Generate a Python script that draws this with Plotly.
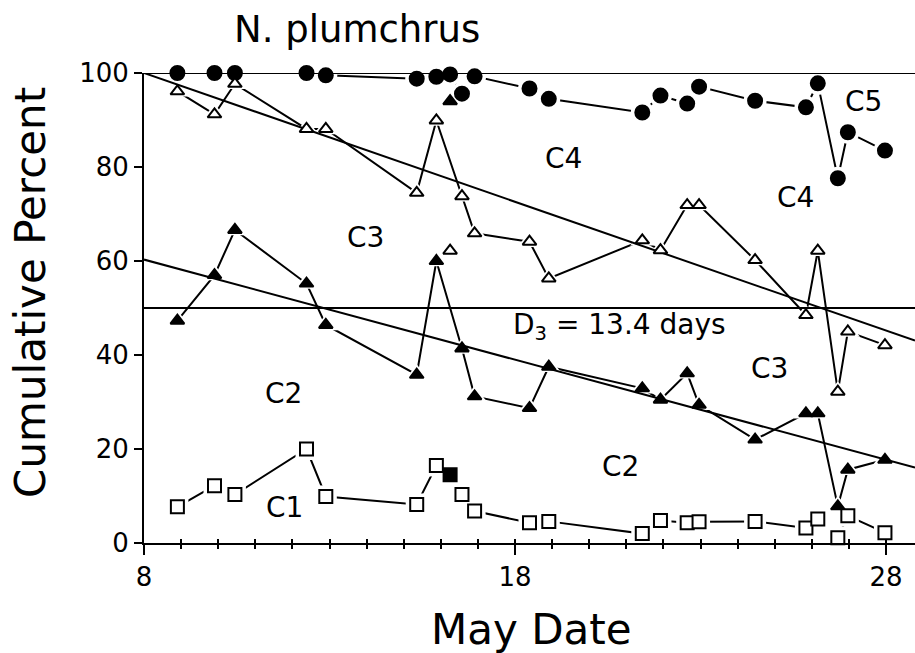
import plotly.graph_objects as go

# Sampling dates in May (day of month) shared by the stage series
dates = [8.9, 9.9, 10.45, 12.38, 12.9, 15.35, 15.88, 16.57, 16.91, 18.39, 18.91,
         21.43, 21.92, 22.64, 22.96, 24.47, 25.84, 26.16, 26.7, 26.97, 27.97]

# Cumulative percent through C4 (filled circles) – includes the extra 16.25 sample
c4_dates = [8.9, 9.9, 10.45, 12.38, 12.9, 15.35, 15.88, 16.25, 16.57, 16.91, 18.39,
            18.91, 21.43, 21.92, 22.64, 22.96, 24.47, 25.84, 26.16, 26.7, 26.97, 27.97]
c4_pct = [100, 100, 100, 100, 99.5, 98.8, 99.2, 99.7, 95.6, 99.3, 96.7,
          94.5, 91.6, 95.2, 93.5, 97.1, 94.1, 92.7, 97.8, 77.6, 87.4, 83.5]

# Cumulative percent through C3 (open triangles)
c3_pct = [96.1, 91.2, 97.7, 88.1, 88.1, 74.5, 89.9, 73.8, 65.9, 64.1, 56.3,
          64.4, 62.3, 71.9, 71.9, 60.2, 48.5, 62.2, 32.2, 45.0, 42.1]

# Cumulative percent through C2 (filled triangles)
c2_pct = [47.3, 57.0, 66.6, 55.2, 46.4, 35.8, 60.0, 41.4, 31.2, 28.7, 37.5,
          32.9, 30.5, 36.1, 29.4, 22.0, 27.6, 27.6, 7.8, 15.6, 17.7]

# Percent C1 (open squares)
c1_pct = [7.7, 12.2, 10.3, 20.0, 9.9, 8.2, 16.5, 10.3, 6.8, 4.3, 4.6,
          2.0, 4.8, 4.3, 4.5, 4.6, 3.2, 5.1, 1.1, 5.8, 2.2]

# Single extra sample on 16.25 May
extra_date = 16.25
extra_c2_filled_tri = 94.0
extra_c3_open_tri = 62.2
extra_c1_filled_sq = 14.5

# Linear fits: value at May 8 and slope (% per day)
fit_upper = (100.0, -2.74)
fit_lower = (60.3, -2.13)

# Stage labels: text, date, percent
stage_labels = [
    ("C5", 27.4, 94.0),
    ("C4", 19.3, 81.8),
    ("C4", 25.55, 73.6),
    ("C3", 13.96, 65.0),
    ("C3", 24.85, 37.2),
    ("C2", 11.76, 31.9),
    ("C2", 20.85, 16.3),
    ("C1", 11.8, 7.6),
]
d3_text = "D<sub>3</sub> = 13.4 days"
d3_pos = (17.9, 46.0)

X_MIN, X_MAX = 8.0, 28.78
FONT = "DejaVu Sans"
INK = "black"

fig = go.Figure()

series = [
    (c4_dates, c4_pct, "circle", 14, INK),
    (dates, c3_pct, "triangle-up", 12, "white"),
    (dates, c2_pct, "triangle-up", 12, INK),
    (dates, c1_pct, "square", 13, "white"),
]
extra = [(extra_date, extra_c2_filled_tri, "triangle-up", 12, INK),
         (extra_date, extra_c3_open_tri, "triangle-up", 12, "white"),
         (extra_date, extra_c1_filled_sq, "square", 13, INK)]

# connecting lines
for xs, ys, sym, sz, fill in series:
    fig.add_trace(go.Scatter(x=xs, y=ys, mode="lines",
                             line=dict(color=INK, width=2),
                             cliponaxis=False, hoverinfo="skip", showlegend=False))

# white halos so that connecting lines stop short of each symbol
for xs, ys, sym, sz, fill in series:
    fig.add_trace(go.Scatter(x=xs, y=ys, mode="markers",
                             marker=dict(symbol=sym, size=sz + 9, color="white",
                                         line=dict(width=0)),
                             cliponaxis=False, hoverinfo="skip", showlegend=False))
for xv, yv, sym, sz, fill in extra:
    fig.add_trace(go.Scatter(x=[xv], y=[yv], mode="markers",
                             marker=dict(symbol=sym, size=sz + 9, color="white",
                                         line=dict(width=0)),
                             cliponaxis=False, hoverinfo="skip", showlegend=False))

# reference lines at 100 % and 50 %
for level in (100, 50):
    fig.add_trace(go.Scatter(x=[X_MIN, X_MAX], y=[level, level], mode="lines",
                             line=dict(color=INK, width=2),
                             cliponaxis=False, hoverinfo="skip", showlegend=False))

# regression lines
for a, b in (fit_upper, fit_lower):
    fig.add_trace(go.Scatter(x=[X_MIN, X_MAX],
                             y=[a, a + b * (X_MAX - X_MIN)], mode="lines",
                             line=dict(color=INK, width=2),
                             cliponaxis=False, hoverinfo="skip", showlegend=False))

# symbols
for xs, ys, sym, sz, fill in series:
    fig.add_trace(go.Scatter(x=xs, y=ys, mode="markers",
                             marker=dict(symbol=sym, size=sz, color=fill,
                                         line=dict(color=INK, width=2)),
                             cliponaxis=False, hoverinfo="skip", showlegend=False))
for xv, yv, sym, sz, fill in extra:
    fig.add_trace(go.Scatter(x=[xv], y=[yv], mode="markers",
                             marker=dict(symbol=sym, size=sz, color=fill,
                                         line=dict(color=INK, width=2)),
                             cliponaxis=False, hoverinfo="skip", showlegend=False))

# transparent point that makes the overlaid tick axis render
fig.add_trace(go.Scatter(x=[X_MIN], y=[0], xaxis="x2", mode="markers",
                         marker=dict(size=1, opacity=0),
                         hoverinfo="skip", showlegend=False))

annotations = []
for txt, xv, yv in stage_labels:
    annotations.append(dict(text=txt, x=xv, y=yv, xref="x", yref="y",
                            showarrow=False, font=dict(family=FONT, size=28, color=INK),
                            xanchor="center", yanchor="middle"))
annotations.append(dict(text=d3_text, x=d3_pos[0], y=d3_pos[1], xref="x", yref="y",
                        showarrow=False, font=dict(family=FONT, size=28, color=INK),
                        xanchor="left", yanchor="middle"))
annotations.append(dict(text="N. plumchrus", x=0.276, y=1.092, xref="paper", yref="paper",
                        showarrow=False, font=dict(family=FONT, size=37, color=INK),
                        xanchor="center", yanchor="middle"))
annotations.append(dict(text="Cumulative Percent", x=-0.148, y=0.534,
                        xref="paper", yref="paper", textangle=-90,
                        showarrow=False, font=dict(family=FONT, size=42, color=INK),
                        xanchor="center", yanchor="middle"))
annotations.append(dict(text="May Date", x=0.503, y=-0.184,
                        xref="paper", yref="paper",
                        showarrow=False, font=dict(family=FONT, size=42, color=INK),
                        xanchor="center", yanchor="middle"))

fig.update_layout(
    width=915, height=653,
    margin=dict(l=144, r=0, t=73, b=110),
    paper_bgcolor="white", plot_bgcolor="white",
    showlegend=False,
    annotations=annotations,
    xaxis=dict(range=[X_MIN, X_MAX], tick0=8, dtick=10, ticks="outside",
               ticklen=10, tickwidth=2, tickcolor=INK,
               minor=dict(dtick=1, tick0=8, ticks="outside", ticklen=4,
                          tickwidth=1.5, tickcolor=INK),
               showline=True, linecolor=INK, linewidth=2,
               showgrid=False, zeroline=False,
               tickfont=dict(family=FONT, size=26, color=INK)),
    xaxis2=dict(range=[X_MIN, X_MAX], overlaying="x", anchor="y", side="bottom",
                tick0=8, dtick=1, ticks="inside", ticklen=4, tickwidth=1.5,
                tickcolor=INK, showticklabels=False, showline=False,
                showgrid=False, zeroline=False),
    yaxis=dict(range=[0, 100], dtick=20, ticks="outside", ticklen=8,
               tickwidth=2, tickcolor=INK,
               showline=True, linecolor=INK, linewidth=2,
               showgrid=False, zeroline=False,
               tickfont=dict(family=FONT, size=26, color=INK)),
)

fig.write_html("out.html")
